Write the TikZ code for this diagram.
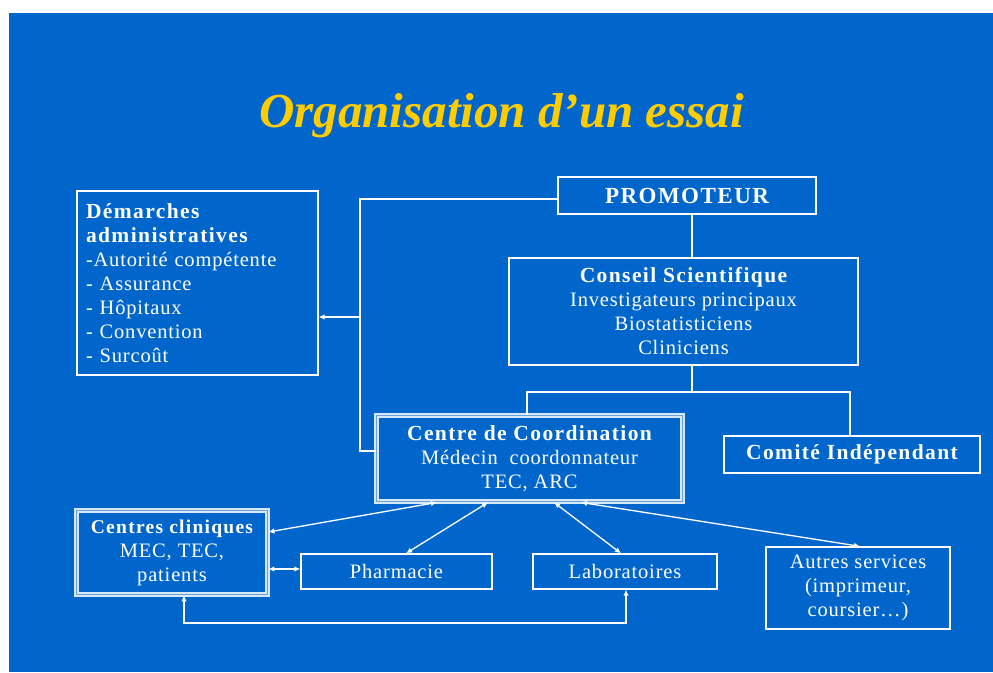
\documentclass[tikz,border=0pt]{standalone}
\usepackage{fontspec}
\setmainfont{Liberation Serif}[LetterSpace=4, BoldFeatures={LetterSpace=6.5}]
\newfontfamily\titlefont{Liberation Serif}
\usetikzlibrary{arrows.meta}
\definecolor{bg}{RGB}{0,102,204}
\definecolor{titley}{RGB}{255,204,0}
\newcommand{\hdA}{\fontsize{21.5}{24}\selectfont\bfseries}
\newcommand{\hdB}{\fontsize{21.5}{24}\selectfont\bfseries}
\tikzset{
  box/.style={draw=white, line width=1.3pt, inner sep=0pt, text=white, align=center,
              font=\fontsize{20.5}{24}\selectfont},
  dbox/.style={box, draw=white!85!bg, double=bg!60!white, double distance=1.4pt, line width=1.8pt},
  conn/.style={draw=white, line width=1.3pt},
  tip/.tip={Latex[length=6pt,width=5.5pt]},
  arr/.style={conn, tip-tip},
}
\begin{document}
\begin{tikzpicture}[x=1pt,y=-1pt]
\useasboundingbox (0,0) rectangle (993,672);
\fill[white] (0,0) rectangle (993,672);
\fill[bg] (9,13) rectangle (993,672);

\node[anchor=base, text=titley, font=\titlefont\fontsize{49}{52}\selectfont\bfseries\itshape] (title) at (501.5,127) {Organisation d’un essai};

\node[box, minimum width=241pt, minimum height=184pt, text width=223pt, align=left] (dem) at (197.5,283)
  {{\hdA Démarches}\\{\hdA administratives}\\-Autorité compétente\\- Assurance\\- Hôpitaux\\- Convention\\- Surcoût};
\node[box, minimum width=258pt, minimum height=37pt, font=\fontsize{23}{24}\selectfont\bfseries] (prom) at (687,195.5) {PROMOTEUR};
\node[box, minimum width=349pt, minimum height=107pt] (cons) at (683.5,311.5)
  {{\hdB Conseil Scientifique}\\Investigateurs principaux\\Biostatisticiens\\Cliniciens};
\node[dbox, minimum width=306pt, minimum height=86pt] (centre) at (529.5,458.5)
  {{\hdB Centre de Coordination}\\Médecin \ coordonnateur\\TEC, ARC};
\node[box, minimum width=256pt, minimum height=37pt, font=\fontsize{21.5}{24}\selectfont\bfseries] (comite) at (852,454.5) {Comité Indépendant};
\node[dbox, minimum width=191pt, minimum height=84pt] (clin) at (172,552.5)
  {{\fontsize{19.5}{24}\selectfont\bfseries Centres cliniques}\\MEC, TEC,\\patients};
\node[box, minimum width=191pt, minimum height=35pt] (pharm) at (396.5,571.5) {Pharmacie};
\node[box, minimum width=184pt, minimum height=35pt] (labo) at (625,571.5) {Laboratoires};
\node[box, minimum width=184pt, minimum height=82pt] (autres) at (858,588)
  {Autres services\\(imprimeur,\\coursier…)};

% tree connectors
\coordinate (vx) at (692,0);
\coordinate (j0) at (692,392);
\coordinate (j1) at (527,392);
\coordinate (j2) at (850,392);
\draw[conn] (prom.south -| vx) -- (cons.north -| vx);
\draw[conn] (cons.south -| j0) -- (j0);
\draw[conn] (centre.north -| j1) -- (j1) -- (j2) -- (comite.north -| j2);

% promoteur to centre, with branch to demarches
\coordinate (l1) at (360,199);
\coordinate (l2) at (360,451);
\coordinate (l3) at (360,317);
\draw[conn] (l1 -| prom.west) -- (l1) -- (l2) -- (l2 -| centre.west);
\draw[conn,-tip] (l3) -- (l3 -| dem.east);

% centre to services
\coordinate (s1) at (437,532);
\coordinate (s2) at (488,0);
\coordinate (s3) at (406,0);
\coordinate (s4) at (554,0);
\coordinate (s5) at (621,0);
\coordinate (s6) at (581,0);
\coordinate (s7) at (860,0);
\draw[arr] (centre.south -| s1) -- (clin.east |- s1);
\draw[arr] (centre.south -| s2) -- (pharm.north -| s3);
\draw[arr] (centre.south -| s4) -- (labo.north -| s5);
\draw[arr] (centre.south -| s6) -- (autres.north -| s7);

% clinical centres links
\coordinate (p5) at (0,569);
\draw[arr] (clin.east |- p5) -- (pharm.west |- p5);
\coordinate (q1) at (184,623);
\coordinate (q2) at (626,623);
\draw[arr] (clin.south -| q1) -- (q1) -- (q2) -- (labo.south -| q2);
\end{tikzpicture}
\end{document}
